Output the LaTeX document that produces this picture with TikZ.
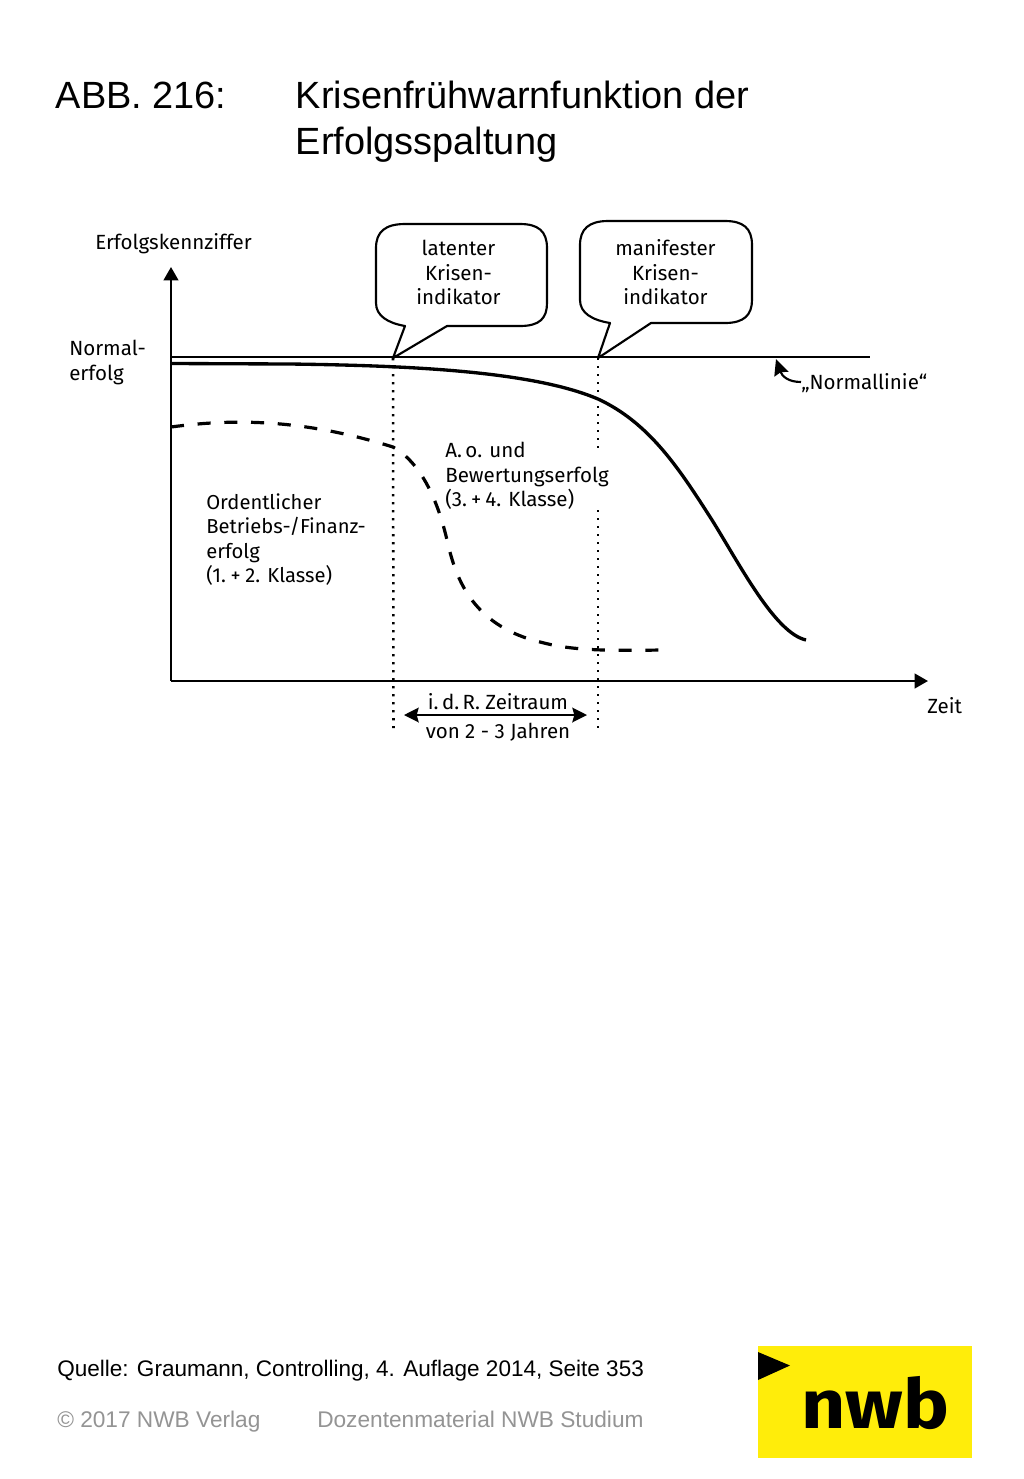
\documentclass[tikz,border=0pt]{standalone}
\usepackage{fontspec}
\setmainfont{Liberation Sans}
\newfontfamily\diafont{Fira Sans}
\usetikzlibrary{arrows.meta}
\tikzset{
  x=0.75pt,y=-0.75pt,
  title/.style={anchor=base west,inner sep=0,font=\fontsize{28.45pt}{34.5pt}\selectfont,align=left},
  foot/.style={anchor=base west,inner sep=0,font=\fontsize{16.9pt}{20pt}\selectfont},
  footgrey/.style={anchor=base west,inner sep=0,text=black!42,font=\fontsize{17pt}{20pt}\selectfont},
  lab/.style={inner sep=0,font=\diafont\fontsize{15.4pt}{18.4pt}\selectfont,text=black,align=left},
  labc/.style={lab,align=center},
  axisline/.style={line width=1.6pt,-{Triangle[length=10pt,width=11pt]}},
  thin line/.style={line width=1.5pt},
  dotline/.style={line width=1.9pt,dash pattern=on 1.7pt off 4.3pt},
  callout/.style={line width=1.6pt,line join=round},
}
\definecolor{nwby}{HTML}{FFED0A}
\begin{document}
\begin{tikzpicture}
\useasboundingbox (0,0) rectangle (1024,1479);
\fill[white] (0,0) rectangle (1024,1479);
% headings
\node[title] (abb) at (55.5,108) {ABB. 216:};
\node[title] (ttl) at (295.5,108) {Krisenfrühwarnfunktion der};
\node[title] (ttl2) at (295.5,154) {Erfolgsspaltung};
% coordinates
\coordinate (O) at (171,681);
\coordinate (Ytop) at (171,267);
\coordinate (Xend) at (928,681);
\coordinate (N0) at (171,357);
\coordinate (N1) at (870,357);
\coordinate (T1) at (393,358);
\coordinate (T2) at (598,358);
\coordinate (D1) at (393.5,728);
\coordinate (D2a) at (598,448);
\coordinate (D2b) at (598,510);
\coordinate (D2c) at (598,730);
\coordinate (ArrL) at (404,715);
\coordinate (ArrR) at (587,715);
\coordinate (NlA) at (801,382);
\coordinate (NlB) at (776,359);
% dotted
\draw[dotline] (T1) -- (D1);
\draw[dotline] (T2) -- (D2a);
\draw[dotline] (D2b) -- (D2c);
% axes
\draw[axisline] (O) -- (Ytop);
\draw[axisline] (O) -- (Xend);
% solid curve
\draw[line width=2.5pt] (171,363.5) -- (290,364) .. controls (400,365.5) and (530,370) .. (598,399)
  .. controls (650,423) and (680,470) .. (712,520)
  .. controls (740,565) and (775,633) .. (806,640);
% dashed curve
\draw[line width=2.4pt,dash pattern=on 9.8pt off 10.26pt] (171,427) .. controls (230,419) and (300,418) .. (393,447)
  .. controls (425,465) and (440,510) .. (447,540)
  .. controls (455,575) and (470,625) .. (540,642)
  .. controls (570,650) and (600,651) .. (661,650);
% callouts
\draw[callout,fill=white] (405,326) -- (393,358) -- (447,326) -- (520,326)
  .. controls (540,326) and (547,318) .. (547,303) -- (547,248)
  .. controls (547,231) and (538,224) .. (520,224) -- (405,224)
  .. controls (385,224) and (376,232) .. (376,248) -- (376,303)
  .. controls (376,316) and (388,323) .. (405,326) -- cycle;
\draw[callout,fill=white] (610,323) -- (598,358) -- (651,323) -- (725,323)
  .. controls (744,323) and (752,315) .. (752,300) -- (752,245)
  .. controls (752,228) and (743,221) .. (725,221) -- (608,221)
  .. controls (589,221) and (580,229) .. (580,245) -- (580,300)
  .. controls (580,313) and (592,320) .. (610,323) -- cycle;
\draw[thin line] (N0) -- (N1);
% double arrow
\draw[line width=1.6pt,{Stealth[length=11pt,width=11pt,inset=1.5pt]}-{Stealth[length=11pt,width=11pt,inset=1.5pt]}] (ArrL) -- (ArrR);
% Normallinie arrow
\draw[line width=1.6pt,-{Stealth[length=12pt,width=11pt,inset=1.5pt]}] (NlA) .. controls (788,382) and (782,376) .. (NlB);
% labels
\node[lab,anchor=base west] (ek) at (95,249) {Erfolgskennziffer};
\node[lab,anchor=north west] (ne) at (69,340) {Normal-\\erfolg};
\node[labc] (lk) at (458.5,272.5) {latenter\\Krisen-\\indikator};
\node[labc] (mk) at (665.5,272.5) {manifester\\Krisen-\\indikator};
\node[lab,anchor=base west] (nl) at (801,389) {„Normallinie“};
\node[lab,anchor=north west] (ao) at (445,442) {A.\,o. und\\Bewertungserfolg\\(3.\kern3pt+\kern3pt4. Klasse)};
\node[lab,anchor=north west,font=\diafont\fontsize{15.15pt}{18.4pt}\selectfont] (ob) at (206,493) {Ordentlicher\\Betriebs-/Finanz-\\erfolg\\(1.\kern3.5pt+\kern3.5pt2. Klasse)};
\node[lab,anchor=base] (zr) at (498,709) {i.\,d.\,R. Zeitraum};
\node[lab,anchor=base] (vj) at (498,738) {von 2 - 3 Jahren};
\node[lab,anchor=base west] (zt) at (927,713) {Zeit};
% footer
\node[foot] (q) at (57,1376) {Quelle: Graumann, Controlling, 4. Auflage 2014, Seite 353};
\node[footgrey] (c) at (57,1427) {© 2017 NWB Verlag};
\node[footgrey] (d) at (317,1427) {Dozentenmaterial NWB Studium};
% logo
\fill[nwby] (758,1346) rectangle (972,1458);
\fill[black] (758,1352) -- (790,1365.5) -- (758,1380) -- cycle;
\node[anchor=base,inner sep=0,xscale=1.12,font=\diafont\bfseries\fontsize{51.5pt}{60pt}\selectfont] (nwb) at (875.5,1428) {nwb};
\end{tikzpicture}
\end{document}
